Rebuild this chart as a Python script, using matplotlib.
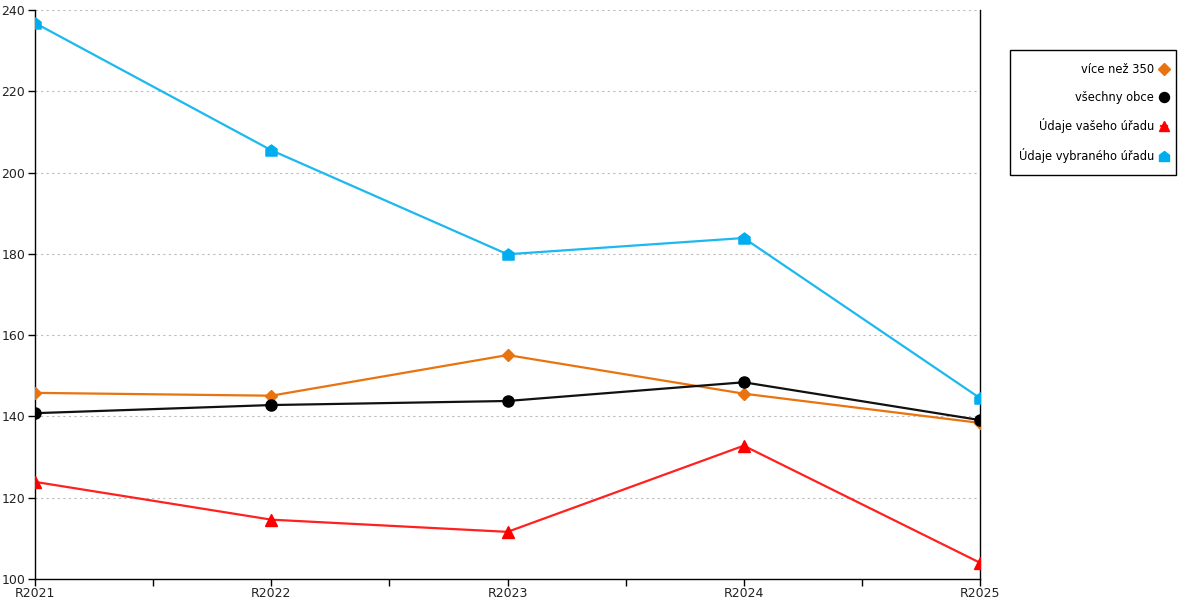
import matplotlib
matplotlib.use("Agg")
import matplotlib.pyplot as plt
from matplotlib.path import Path
from matplotlib.patches import Rectangle
from matplotlib.ticker import MultipleLocator

categories = ["R2021", "R2022", "R2023", "R2024", "R2025"]
vice_nez_350 = [145.8, 145.1, 155.1, 145.6, 138.4]
vsechny_obce = [140.8, 142.8, 143.8, 148.4, 139.1]
vaseho_uradu = [123.9, 114.6, 111.6, 132.8, 104.0]
vybraneho_uradu = [236.8, 205.5, 179.9, 183.9, 144.5]

series_labels = ["více než 350", "všechny obce", "Údaje vašeho úřadu", "Údaje vybraného úřadu"]

house = Path([(-1, -1), (1, -1), (1, 0.25), (0, 1), (-1, 0.25), (-1, -1)],
             [Path.MOVETO, Path.LINETO, Path.LINETO, Path.LINETO, Path.LINETO, Path.CLOSEPOLY])

plt.rcParams['font.family'] = ['DejaVu Sans']
fig = plt.figure(figsize=(12, 6), dpi=100)
ax = fig.add_axes([35/1200, 21/600, 945/1200, 569/600])

x = list(range(len(categories)))
ax.plot(x, vice_nez_350, color="#e8730f", lw=1.6, marker="D", ms=6.5, mec="#e8730f", mfc="#e8730f", label=series_labels[0], zorder=3)
ax.plot(x, vsechny_obce, color="#111111", lw=1.6, marker="o", ms=8, mec="#000000", mfc="#000000", label=series_labels[1], zorder=4)
ax.plot(x, vaseho_uradu, color="#ff2020", lw=1.6, marker="^", ms=8, mec="#ff0000", mfc="#ff0000", label=series_labels[2], zorder=3)
ax.plot(x, vybraneho_uradu, color="#1cb8f0", lw=1.6, marker=house, ms=8, mec="#00aef0", mfc="#00aef0", label=series_labels[3], zorder=3)

ax.set_xlim(0, len(categories) - 1)
ax.set_ylim(100, 240)
ax.set_xticks(x)
ax.set_xticklabels(categories)
ax.xaxis.set_minor_locator(MultipleLocator(0.5))
ax.yaxis.set_major_locator(MultipleLocator(20))
ax.tick_params(axis="both", which="both", direction="out", length=5, width=1, color="black", labelsize=9, labelcolor="#222222")
ax.tick_params(axis="x", which="major", pad=1)
ax.tick_params(axis="y", pad=2)

ax.grid(axis="y", color="#bbbbbb", linestyle=(0, (2, 3)), lw=0.8)
ax.set_axisbelow(True)
ax.spines["top"].set_visible(False)
ax.spines["right"].set_visible(True)
for s in ["left", "bottom", "right"]:
    ax.spines[s].set_color("black")
    ax.spines[s].set_linewidth(1)

# legend frame drawn as a separate box
fig.patches.append(Rectangle((1010/1200, 1 - 175/600), 166/1200, 125/600, transform=fig.transFigure,
                             fill=False, ec="black", lw=1))
leg = fig.legend(loc="upper right", bbox_to_anchor=(1167/1200, 1 - 63/600), markerfirst=False,
                 frameon=False, fontsize=8.3,
                 handlelength=0.5, handletextpad=0.62, labelspacing=1.27, borderpad=0,
                 borderaxespad=0, markerscale=0.9)
leg._legend_box.align = "right"

fig.savefig("out.png", dpi=100)
